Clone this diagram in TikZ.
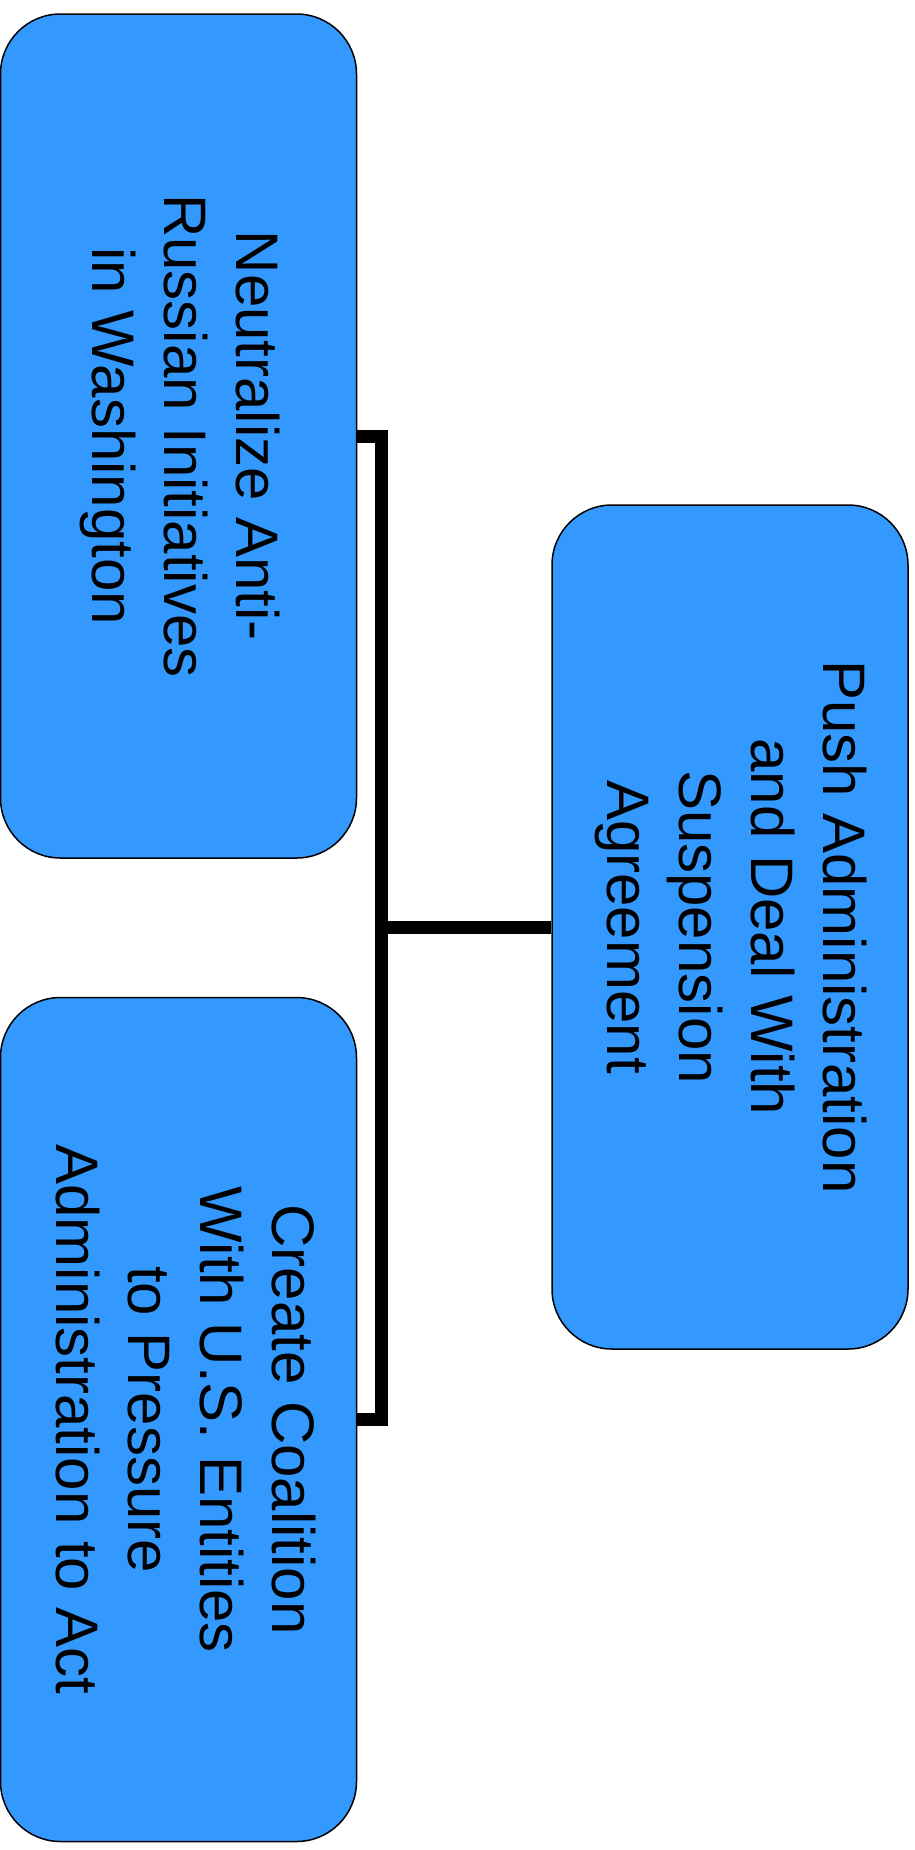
\documentclass[tikz,border=0pt]{standalone}
\usepackage{fontspec}
\setmainfont{Liberation Sans}
\definecolor{boxblue}{HTML}{3399FF}
\newcommand{\goaltext}[1]{\rotatebox{-90}{\begin{tabular}{@{}c@{}}#1\end{tabular}}\hspace{19pt}}
\begin{document}
\begin{tikzpicture}[x=1pt,y=-1pt,
  goalbox/.style={draw=black, line width=1.5pt, fill=boxblue, rounded corners=60pt,
    minimum width=356pt, minimum height=844pt, inner sep=0pt, anchor=center,
    font=\fontsize{60}{72}\selectfont},
  conn/.style={draw=black, line width=13pt, line join=miter}]
\useasboundingbox (0,0) rectangle (915,1850);
\node[goalbox] (b1) at (178.5,436) {\goaltext{Neutralize Anti-\\Russian Initiatives\\in Washington}};
\node[goalbox] (b2) at (730,927) {\goaltext{Push Administration\\and Deal With\\Suspension\\Agreement}};
\node[goalbox] (b3) at (178.5,1419.5) {\goaltext{Create Coalition\\With U.S. Entities\\to Pressure\\Administration to Act}};
\coordinate (j) at (381,927);
\draw[conn] (b1.east) -| (j) |- (b3.east);
\draw[conn] (j) -- (b2.west);
\end{tikzpicture}
\end{document}
